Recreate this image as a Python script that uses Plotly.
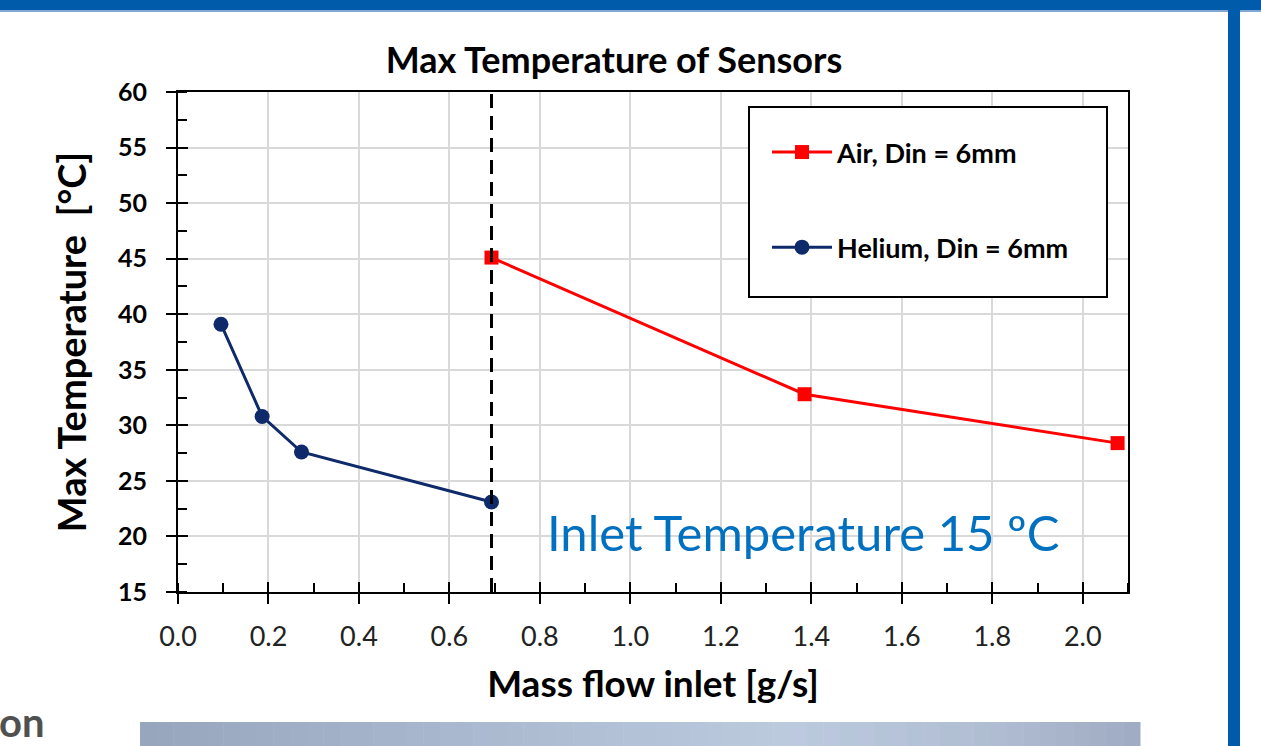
import plotly.graph_objects as go

# Data
helium_x = [0.095, 0.186, 0.273, 0.693]
helium_y = [39.1, 30.8, 27.6, 23.1]
air_x = [0.693, 1.385, 2.077]
air_y = [45.1, 32.8, 28.4]
divider_x = 0.693
title = "Max Temperature of Sensors"
note = "Inlet Temperature 15 ºC"

W, H = 1261, 746
L, R, T, B = 178, 133, 92, 154
PW, PH = W - L - R, H - T - B

def px(q):
    return (q - L) / PW

def py(p):
    return (H - B - p) / PH

FONT = "Lato"

fig = go.Figure()
fig.add_trace(go.Scatter(
    x=air_x, y=air_y, mode="lines+markers", name="Air, Din = 6mm",
    line=dict(color="#FF0000", width=3),
    marker=dict(symbol="square", size=14, color="#FF0000"),
    legendgroup="a",
))
fig.add_trace(go.Scatter(
    x=helium_x, y=helium_y, mode="lines+markers", name="Helium, Din = 6mm",
    line=dict(color="#0E2A6A", width=3),
    marker=dict(symbol="circle", size=15, color="#0E2A6A"),
    legendgroup="b",
))

fig.add_vline(x=divider_x, line=dict(color="black", width=3, dash="14px,8px"))

# legend frame
fig.add_shape(type="rect", xref="paper", yref="paper", x0=px(749), x1=px(1107), y0=py(297), y1=py(107),
              fillcolor="white", line=dict(color="black", width=2), layer="above")

# decorations of the slide
shapes = [
    dict(type="rect", xref="paper", yref="paper", x0=px(-5), x1=px(W + 5), y0=py(10), y1=py(-5),
         fillcolor="#005CAB", line=dict(width=0), layer="above"),
    dict(type="rect", xref="paper", yref="paper", x0=px(-5), x1=px(W + 5), y0=py(12), y1=py(10),
         fillcolor="#7FA8D4", line=dict(width=0), layer="above"),
    dict(type="rect", xref="paper", yref="paper", x0=px(1228), x1=px(1240), y0=py(H + 5), y1=py(10),
         fillcolor="#005CAB", line=dict(width=0), layer="above"),
]
stops = [(0.0, (150, 165, 189)), (0.35, (172, 186, 208)), (0.65, (188, 202, 222)),
         (0.85, (176, 189, 210)), (1.0, (158, 171, 194))]
N = 60
for i in range(N):
    t = (i + 0.5) / N
    for (a, ca), (b, cb) in zip(stops[:-1], stops[1:]):
        if a <= t <= b:
            f = (t - a) / (b - a)
            c = tuple(round(ca[k] + (cb[k] - ca[k]) * f) for k in range(3))
            break
    shapes.append(dict(type="rect", xref="paper", yref="paper",
                       x0=px(140 + i * 1000 / N), x1=px(140 + (i + 1) * 1000 / N + 0.5),
                       y0=py(H + 5), y1=py(722), fillcolor="rgb(%d,%d,%d)" % c,
                       line=dict(width=0), layer="above"))
for s in shapes:
    fig.add_shape(**s)

fig.add_annotation(text=note, xref="paper", yref="paper", x=px(545), y=py(532),
                   xanchor="left", yanchor="middle", showarrow=False,
                   font=dict(family=FONT, size=49, color="#0070C0"))
fig.add_annotation(text="<b>on</b>", xref="paper", yref="paper", x=px(-3), y=py(748),
                   xanchor="left", yanchor="bottom", showarrow=False,
                   font=dict(family=FONT, size=40, color="#505050"))

fig.update_layout(
    width=W, height=H,
    margin=dict(l=L, r=R, t=T, b=B),
    paper_bgcolor="white", plot_bgcolor="white",
    title=dict(text="<b>" + title + "</b>", xref="container", yref="container",
               x=614 / W, xanchor="center", y=(H - 60) / H, yanchor="middle",
               font=dict(family=FONT, size=36, color="black")),
    font=dict(family=FONT, color="black"),
    showlegend=True,
    legend=dict(x=px(767), y=py(128), xanchor="left", yanchor="top",
                borderwidth=0, bgcolor="rgba(0,0,0,0)",
                font=dict(family=FONT, size=27, color="black", weight="bold"),
                tracegroupgap=57, itemwidth=60),
    xaxis=dict(range=[0, 2.1], dtick=0.2, tick0=0, tickformat=".1f",
               showgrid=True, gridcolor="#D9D9D9", gridwidth=2,
               showline=True, linecolor="black", linewidth=2, mirror=True,
               ticks="outside", ticklen=10, tickwidth=2, tickcolor="black",
               minor=dict(dtick=0.1, ticks="inside", ticklen=9, tickwidth=2, tickcolor="black", showgrid=False),
               tickfont=dict(family=FONT, size=27, color="#222"),
               ticklabelstandoff=10,
               title=dict(text="<b>Mass flow inlet [g/s]</b>", font=dict(family=FONT, size=37, color="black"), standoff=20),
               zeroline=False),
    yaxis=dict(range=[15, 60], dtick=5,
               showgrid=True, gridcolor="#D9D9D9", gridwidth=2,
               showline=True, linecolor="black", linewidth=2, mirror=True,
               ticks="outside", ticklen=10, tickwidth=2, tickcolor="black",
               minor=dict(dtick=2.5, ticks="inside", ticklen=9, tickwidth=2, tickcolor="black", showgrid=False),
               tickfont=dict(family=FONT, size=25, color="black", weight="bold"),
               ticklabelstandoff=14,
               title=dict(text="<b>Max Temperature  [°C]</b>", font=dict(family=FONT, size=38, color="black"), standoff=20),
               zeroline=False),
    xaxis2=dict(overlaying="x", matches="x", anchor="y", side="bottom", range=[0, 2.1], dtick=0.2, tick0=0,
                showticklabels=False, showgrid=False, ticks="inside", ticklen=10, tickwidth=2,
                tickcolor="black", showline=False, zeroline=False),
    yaxis2=dict(overlaying="y", matches="y", anchor="x", side="left", range=[15, 60], dtick=5,
                showticklabels=False, showgrid=False, ticks="inside", ticklen=10, tickwidth=2,
                tickcolor="black", showline=False, zeroline=False),
)
# invisible trace to activate the overlay axes
fig.add_trace(go.Scatter(x=[air_x[0]], y=[air_y[0]], xaxis="x2", yaxis="y2", mode="markers",
                         marker=dict(opacity=0), showlegend=False, hoverinfo="skip"))

fig.write_html("out.html")
